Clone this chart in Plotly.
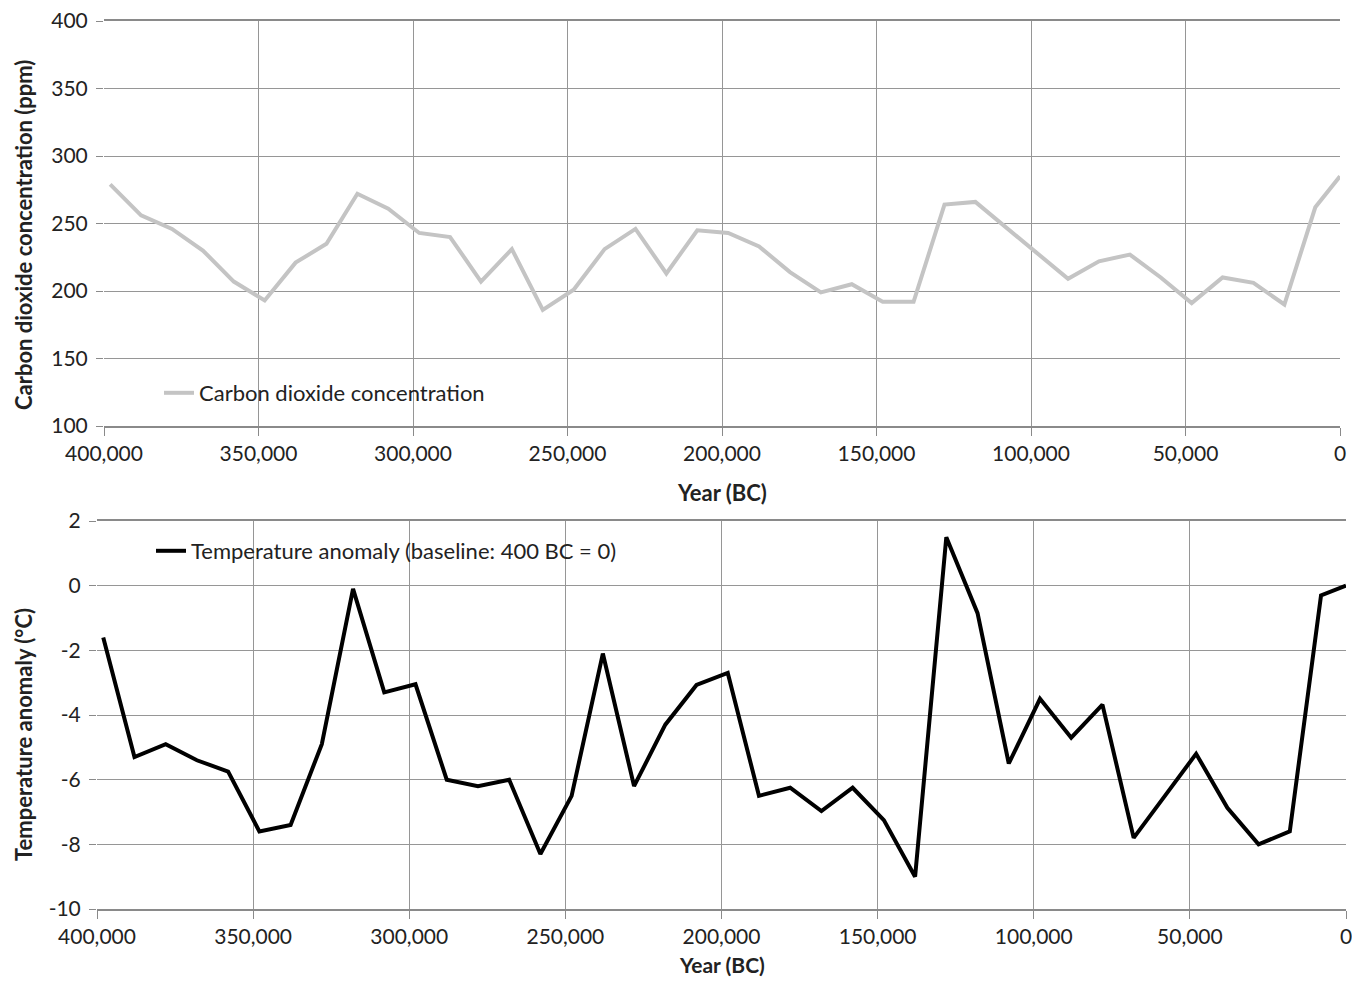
import plotly.graph_objects as go

# Years before present (BC) for each sample
years = [398000, 388000, 378000, 368000, 358000, 348000, 338000, 328000, 318000, 308000,
         298000, 288000, 278000, 268000, 258000, 248000, 238000, 228000, 218000, 208000,
         198000, 188000, 178000, 168000, 158000, 148000, 138000, 128000, 118000, 108000,
         98000, 88000, 78000, 68000, 58000, 48000, 38000, 28000, 18000, 8000, 0]

co2_ppm = [279, 256, 246, 230, 207, 193, 221, 235, 272, 261,
           243, 240, 207, 231, 186, 201, 231, 246, 213, 245,
           243, 233, 214, 199, 205, 192, 192, 264, 266, 247,
           228, 209, 222, 227, 210, 191, 210, 206, 190, 262, 285]

temp_anomaly = [-1.6, -5.3, -4.9, -5.4, -5.75, -7.6, -7.4, -4.9, -0.1, -3.3,
                -3.05, -6.0, -6.2, -6.0, -8.3, -6.5, -2.1, -6.2, -4.3, -3.07,
                -2.7, -6.5, -6.25, -6.97, -6.25, -7.25, -9.0, 1.5, -0.85, -5.5,
                -3.5, -4.7, -3.68, -7.8, -6.5, -5.2, -6.87, -8.0, -7.6, -0.3, 0.0]

x_ticks = [400000, 350000, 300000, 250000, 200000, 150000, 100000, 50000, 0]
co2_ticks = [100, 150, 200, 250, 300, 350, 400]
temp_ticks = [-10, -8, -6, -4, -2, 0, 2]
temp_tick_text = ["-10", "-8", "-6", "-4", "-2", "0", "2"]

# the page body has an 8px margin, so the figure is drawn a little smaller
OFF = 8
W, H = 1360 - 2 * OFF, 986 - 2 * OFF
FONT = "Lato"
TXT = "#222222"
GRID = "#969696"

fig = go.Figure()
fig.add_trace(go.Scatter(
    x=years, y=co2_ppm, mode="lines", name="Carbon dioxide concentration",
    line=dict(color="#c4c4c4", width=4), xaxis="x", yaxis="y", legend="legend"))
fig.add_trace(go.Scatter(
    x=years, y=temp_anomaly, mode="lines", name="Temperature anomaly (baseline: 400 BC = 0)",
    line=dict(color="#000000", width=4), xaxis="x2", yaxis="y2", legend="legend2"))

def px_x(p):
    return (p - OFF) / W

def px_y(p):
    return 1 - (p - OFF) / H

xcommon = dict(tickvals=x_ticks, tickformat=",", showgrid=True, gridcolor=GRID, gridwidth=1,
               showline=True, mirror=True, linecolor="#8a8a8a", linewidth=1.5, ticks="outside", ticklen=8,
               tickcolor="#8a8a8a", tickfont=dict(family=FONT, size=21, color=TXT),
               zeroline=False, automargin=False, range=[400000, 0], ticklabeloverflow="allow")
ycommon = dict(showgrid=True, gridcolor=GRID, gridwidth=1, showline=False, ticks="outside",
               ticklen=7, tickcolor="#8a8a8a", tickfont=dict(family=FONT, size=21, color=TXT),
               zeroline=False, automargin=False, ticklabelstandoff=4, ticklabeloverflow="allow")

fig.update_layout(
    width=W, height=H,
    margin=dict(l=0, r=0, t=0, b=0),
    paper_bgcolor="white", plot_bgcolor="white",
    font=dict(family=FONT, color=TXT),
    xaxis=dict(domain=[px_x(104), px_x(1340)], anchor="y", **xcommon),
    yaxis=dict(domain=[px_y(426), px_y(21)], anchor="x", range=[100, 400], tickvals=co2_ticks, **ycommon),
    xaxis2=dict(domain=[px_x(97), px_x(1346)], anchor="y2", **xcommon),
    yaxis2=dict(domain=[px_y(909), px_y(521)], anchor="x2", range=[-10, 2], tickvals=temp_ticks,
                ticktext=temp_tick_text, **ycommon),
    legend=dict(x=px_x(159), y=px_y(393), xanchor="left", yanchor="middle",
                bgcolor="rgba(0,0,0,0)", borderwidth=0, font=dict(family=FONT, size=22, color=TXT)),
    legend2=dict(x=px_x(151), y=px_y(551), xanchor="left", yanchor="middle",
                 bgcolor="rgba(0,0,0,0)", borderwidth=0, font=dict(family=FONT, size=22, color=TXT)),
    showlegend=True,
)

anns = [
    dict(text="<b>Year (BC)</b>", x=px_x(722), y=px_y(492), font=dict(family=FONT, size=22, color=TXT)),
    dict(text="<b>Year (BC)</b>", x=px_x(722), y=px_y(964), font=dict(family=FONT, size=21, color=TXT)),
    dict(text="<b>Carbon dioxide concentration (ppm)</b>", x=px_x(23), y=px_y(235), textangle=-90,
         font=dict(family=FONT, size=22, color=TXT)),
    dict(text="<b>Temperature anomaly (°C)</b>", x=px_x(23), y=px_y(735), textangle=-90,
         font=dict(family=FONT, size=22, color=TXT)),
]
for a in anns:
    fig.add_annotation(xref="paper", yref="paper", showarrow=False, xanchor="center", yanchor="middle", **a)

fig.write_html("out.html")
